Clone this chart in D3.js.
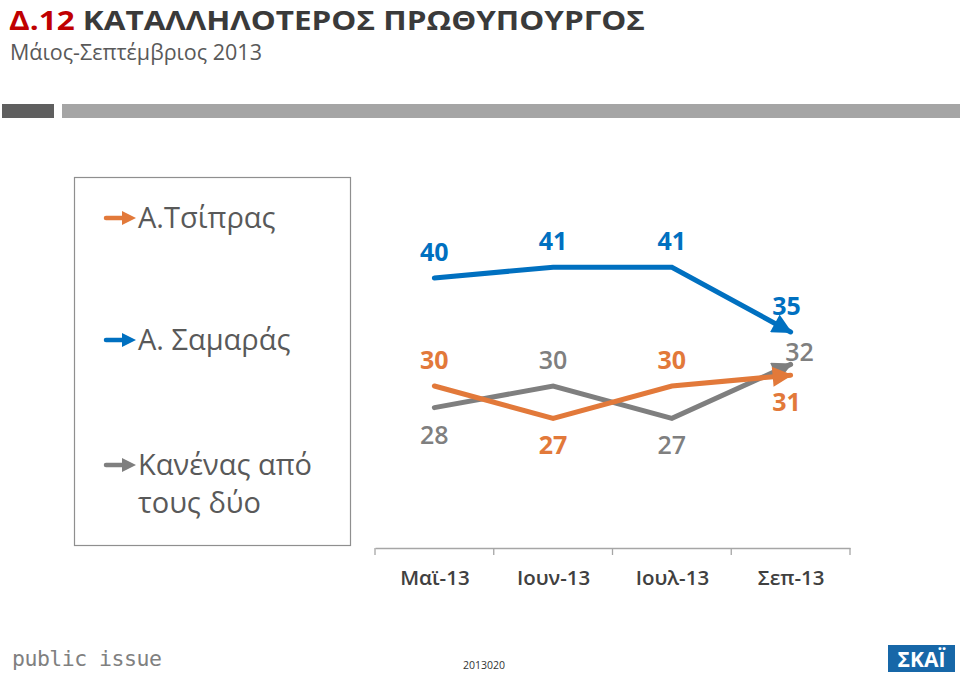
<!DOCTYPE html>
<html>
<head>
<meta charset="utf-8">
<script src="https://cdn.jsdelivr.net/npm/d3@7"></script>
<style>
  html, body { margin: 0; padding: 0; background: #ffffff; }
  svg { display: block; font-family: "Open Sans", "Noto Sans", sans-serif; }
</style>
</head>
<body>
<svg id="chart" width="960" height="675"></svg>
<script>
// ---- data ----
const categories = ["Μαϊ-13", "Ιουν-13", "Ιουλ-13", "Σεπ-13"];
const seriesNames = ["Α.Τσίπρας", "Α. Σαμαράς", "Κανένας από τους δύο"];
const tsiprasValues = [40, 41, 41, 35];
const samarasValues = [30, 27, 30, 31];
const neitherValues = [28, 30, 27, 32];
// label placement relative to point (style, not data)
const tsiprasLabelSide = ["above", "above", "above", "above"];
const samarasLabelSide = ["above", "below", "above", "below"];
const neitherLabelSide = ["below", "above", "below", "right"];

const series = [
  { name: "Α.Τσίπρας", values: tsiprasValues, color: "#0070c0", sides: tsiprasLabelSide, weight: 700 },
  { name: "Α. Σαμαράς", values: samarasValues, color: "#e2793a", sides: samarasLabelSide, weight: 700 },
  { name: "Κανένας από τους δύο", values: neitherValues, color: "#7f7f7f", sides: neitherLabelSide, weight: 600 }
];
// legend as shown in the original (arrow colours as drawn there)
const legendItems = [
  { lines: ["Α.Τσίπρας"], color: "#e2793a" },
  { lines: ["Α. Σαμαράς"], color: "#0070c0" },
  { lines: ["Κανένας από", "τους δύο"], color: "#7f7f7f" }
];

const svg = d3.select("#chart");

// ---- header ----
const title = svg.append("text").attr("x", 9).attr("y", 30)
  .attr("font-size", 27.5).attr("font-weight", 700)
  .attr("textLength", 636).attr("lengthAdjust", "spacingAndGlyphs");
title.append("tspan").attr("fill", "#c00000").text("Δ.12 ");
title.append("tspan").attr("fill", "#3a3a3a").text("ΚΑΤΑΛΛΗΛΟΤΕΡΟΣ ΠΡΩΘΥΠΟΥΡΓΟΣ");
svg.append("text").attr("x", 10).attr("y", 60)
  .attr("font-size", 21.5).attr("fill", "#595959")
  .text("Μάιος-Σεπτέμβριος 2013");

svg.append("rect").attr("x", 2).attr("y", 104).attr("width", 52).attr("height", 14).attr("fill", "#5f5f5f");
svg.append("rect").attr("x", 62).attr("y", 104).attr("width", 898).attr("height", 14).attr("fill", "#a5a5a5");

// ---- scales ----
const x = d3.scalePoint().domain(categories).range([375, 850]).padding(0.5);
const band = d3.scaleBand().domain(categories).range([375, 850]);
const y = d3.scaleLinear().domain([25, 45]).range([440, 224]);

// ---- axis ----
const axisY = 548;
const axisG = svg.append("g").attr("transform", `translate(0,${axisY})`)
  .call(d3.axisBottom(x).tickSize(0).tickPadding(22));
axisG.select(".domain").attr("stroke", "#a6a6a6").attr("stroke-width", 1.3);
axisG.selectAll(".tick text")
  .attr("font-family", "'Open Sans', sans-serif")
  .attr("font-size", 20.5).attr("font-weight", 600).attr("fill", "#404040");
const boundaries = categories.map(c => band(c)).concat([band.range()[1]]);
axisG.selectAll(".bound").data(boundaries).enter().append("line")
  .attr("x1", d => d).attr("x2", d => d).attr("y1", 0).attr("y2", 7)
  .attr("stroke", "#a6a6a6").attr("stroke-width", 1.3);

// ---- markers ----
const defs = svg.append("defs");
series.forEach((s, i) => {
  defs.append("marker").attr("id", "arrow" + i)
    .attr("viewBox", "0 -5 10 10").attr("refX", 9).attr("refY", 0)
    .attr("markerWidth", 4.2).attr("markerHeight", 4)
    .attr("orient", "auto")
    .append("path").attr("d", "M0,-5L10,0L0,5Z").attr("fill", s.color);
});

// ---- lines ----
const line = d3.line().x((d, i) => x(categories[i])).y(d => y(d));
series.slice().reverse().forEach((s) => {
  const i = series.indexOf(s);
  svg.append("path").datum(s.values)
    .attr("d", line)
    .attr("fill", "none").attr("stroke", s.color).attr("stroke-width", 5)
    .attr("stroke-linecap", "round").attr("stroke-linejoin", "miter")
    .attr("marker-end", `url(#arrow${i})`);
});

// ---- labels ----
series.forEach(s => {
  svg.append("g").selectAll("text").data(s.values).enter().append("text")
    .attr("x", (d, i) => x(categories[i]) + (s.sides[i] === "right" ? 9 : (i === 3 ? -4 : 0)))
    .attr("y", (d, i) => {
      const side = s.sides[i];
      return y(d) + (side === "above" ? -17 : side === "below" ? 36 : -3);
    })
    .attr("text-anchor", "middle")
    .attr("font-size", 25).attr("font-weight", s.weight)
    .attr("fill", s.color)
    .text(d => d);
});

// ---- legend ----
svg.append("rect").attr("x", 74.5).attr("y", 177.5).attr("width", 276).attr("height", 368)
  .attr("fill", "#ffffff").attr("stroke", "#8f8f8f").attr("stroke-width", 1.2);
const legendY = [218, 340, 465];
legendItems.forEach((it, i) => {
  const g = svg.append("g").attr("transform", `translate(0,${legendY[i]})`);
  g.append("line").attr("x1", 106).attr("x2", 124).attr("y1", 0).attr("y2", 0)
    .attr("stroke", it.color).attr("stroke-width", 4.5).attr("stroke-linecap", "round");
  g.append("path").attr("d", "M122,-7L136,0L122,7Z").attr("fill", it.color);
  it.lines.forEach((t, j) => {
    g.append("text").attr("x", 138).attr("y", 10 + j * 38)
      .attr("font-size", 29).attr("fill", "#595959").text(t);
  });
});

// ---- footer ----
svg.append("text").attr("x", 12).attr("y", 666)
  .attr("font-family", "'DejaVu Sans Mono', monospace")
  .attr("font-size", 21.5).attr("fill", "#808080").attr("letter-spacing", -0.5)
  .text("public issue");
svg.append("text").attr("x", 484).attr("y", 669).attr("text-anchor", "middle")
  .attr("font-size", 10.5).attr("fill", "#333333").text("2013020");
svg.append("rect").attr("x", 888).attr("y", 645).attr("width", 67).attr("height", 27).attr("fill", "#1767a8");
svg.append("text").attr("x", 921.5).attr("y", 667).attr("text-anchor", "middle")
  .attr("font-size", 21).attr("font-weight", 700).attr("fill", "#ffffff").text("ΣΚΑΪ");
</script>
</body>
</html>
